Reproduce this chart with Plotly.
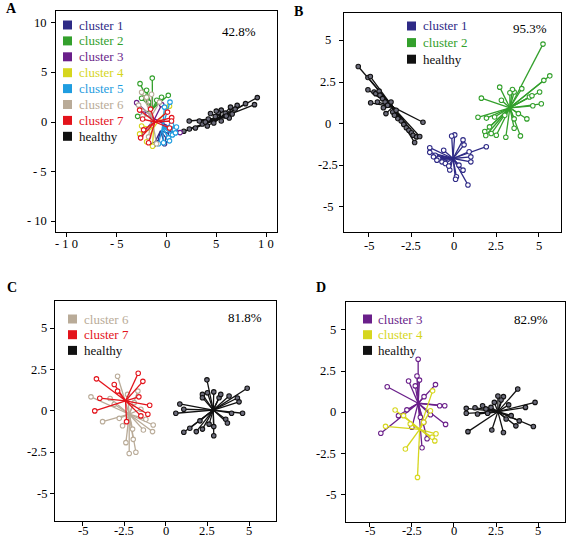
import plotly.graph_objects as go

W, H = 567, 539
FONT = "Times New Roman, Liberation Serif, Tinos, serif"

COLORS = {
    "cluster 1": "#2e2a86",
    "cluster 2": "#33a02c",
    "cluster 3": "#6a1f8a",
    "cluster 4": "#d6d61e",
    "cluster 5": "#1f9de0",
    "cluster 6": "#b9ab98",
    "cluster 7": "#e3131b",
    "healthy": "#111111",
}

# ---------------- Panel A data ----------------
A_healthy_center = [5.4, 0.4]
A_healthy_x = [2.28, 9.12, 8.84, 1.74, 2.3, 2.9, 4.42, 5.5, 6.43, 7.1, 7.94, 4.75, 4.1, 6.3, 5.5, 3.6, 5.2, 5.9, 6.6, 4.2, 4.9, 3.3, 5.0, 6.0, 6.9, 3.9]
A_healthy_y = [0.1, 2.46, 1.75, -0.94, -0.7, -0.6, 0.85, 1.2, 1.5, 1.68, 1.85, -0.1, -0.4, 0.4, 0.1, -0.2, 0.95, 0.9, 0.8, 0.3, 0.55, 0.1, 1.1, 0.6, 1.3, 0.0]
A_c1_center = [-0.6, -0.9]
A_c1_x = [-1.3, -0.9, 0.1, 0.4, -0.2]
A_c1_y = [-2.3, -2.1, -1.8, -1.2, -2.2]
A_c2_center = [-1.4, 1.3]
A_c2_x = [-1.43, -2.66, -2.9, 0.18, -2.26, -0.98, -0.5, -2.0, -1.8, -2.5]
A_c2_y = [4.43, 3.87, 0.57, 2.69, 2.86, 2.19, 2.5, 3.2, 2.0, 2.4]
A_c3_center = [-1.2, 0.3]
A_c3_x = [-3.0, 1.36, -0.48, -2.6, 0.9, -2.3]
A_c3_y = [1.95, -1.07, 1.75, -1.4, -0.8, 0.8]
A_c4_center = [-1.3, -0.6]
A_c4_x = [-1.4, -2.7, 0.3, -2.0, -2.5]
A_c4_y = [-2.45, -1.2, 1.6, -2.0, -0.4]
A_c5_center = [-0.4, -0.5]
A_c5_x = [0.35, 0.8, 0.6, 0.9, -0.3, 0.2, -0.8, 1.0, 0.5, -0.2, 0.3]
A_c5_y = [2.0, -0.8, -1.3, -1.1, -2.1, -1.6, -2.2, -0.5, -0.3, 1.5, -1.9]
A_c6_center = [-1.5, 0.6]
A_c6_x = [-2.5, -2.0, -1.0, -2.8, -1.5, -1.8, -2.4, -0.7]
A_c6_y = [3.0, 2.5, -2.2, 1.7, 2.8, -1.5, 0.6, 2.0]
A_c7_center = [-1.16, 0.0]
A_c7_x = [0.52, 0.5, -2.4, -2.7, -1.8, -2.6, 0.3, -2.3, -1.6, 0.1]
A_c7_y = [0.44, 0.1, 0.3, 1.2, -2.1, -1.6, -0.6, -0.8, 1.3, 1.0]

# ---------------- Panel B data ----------------
B_healthy_center = [-3.6, 1.0]
B_healthy_x = [-5.63, -5.06, -4.92, -5.06, -4.7, -4.6, -4.4, -4.35, -4.9, -4.5, -4.2, -4.05, -3.7, -4.15, -3.9, -3.6, -3.4, -3.3, -3.1, -2.95, -2.8, -2.65, -2.5, -2.4, -2.2, -2.01, -2.31, -1.82, -3.5, -4.0]
B_healthy_y = [3.43, 2.77, 2.83, 2.03, 1.9, 1.8, 1.95, 1.7, 1.25, 1.3, 1.5, 1.3, 1.3, 0.95, 1.1, 0.7, 0.8, 0.3, 0.15, -0.05, -0.25, -0.4, -0.55, -0.7, -0.8, -0.78, -1.14, 0.08, 0.5, 0.6]
B_c1_center = [-0.05, -2.1]
B_c1_x = [0.05, -0.13, 0.54, 0.6, 1.91, -1.42, -1.42, -1.1, 0.9, 1.0, 1.0, -0.24, 0.15, 0.1, 0.83, 0.54, -0.9, -0.7, -1.2, -0.5, -0.3, 0.3, -1.0, -0.6]
B_c1_y = [-0.68, -0.75, -0.98, -1.28, -1.39, -1.45, -1.73, -1.9, -1.69, -2.0, -2.3, -2.79, -3.2, -3.35, -3.69, -2.8, -2.1, -2.3, -2.0, -2.4, -2.55, -2.5, -2.2, -1.6]
B_c2_center = [3.3, 0.95]
B_c2_x = [5.25, 5.65, 5.3, 5.05, 5.15, 4.65, 4.45, 4.0, 3.55, 3.45, 3.3, 2.7, 1.62, 1.42, 1.92, 1.82, 1.88, 2.2, 2.5, 3.06, 3.92, 3.55, 4.3, 4.6, 2.8, 3.55, 3.0, 3.8, 2.4, 2.1]
B_c2_y = [4.78, 2.87, 2.6, 1.9, 1.19, 1.07, 1.6, 2.1, 1.9, 2.05, 1.85, 2.19, 1.53, 0.38, 0.33, -0.48, -0.72, -0.6, -0.7, -0.82, -0.74, 0.28, 0.28, 1.67, 1.4, -0.28, 0.5, 0.6, 0.4, -0.2]

# ---------------- Panel C data ----------------
C_healthy_center = [2.85, 0.05]
C_healthy_x = [2.47, 4.89, 2.2, 2.88, 3.8, 4.3, 4.61, 3.95, 0.84, 0.6, 1.08, 1.08, 1.44, 1.83, 2.2, 2.88, 2.88, 3.6, 3.7, 3.2, 2.2, 2.5, 4.4, 2.05, 3.3, 2.6]
C_healthy_y = [1.88, 1.37, 1.0, 1.15, 0.9, 0.78, -0.14, -0.14, 0.42, -0.14, 0.1, -1.29, -1.05, -1.25, -1.1, -1.5, -0.95, -0.5, -0.73, 0.8, 0.8, 1.1, 0.55, -0.6, 1.0, -0.8]
C_c6_center = [-2.2, -0.2]
C_c6_x = [-2.9, -4.5, -3.8, -2.8, -0.76, -0.8, -2.4, -2.2, -1.8, -1.96, -1.68, -3.35, -1.5, -2.0, -1.35, -3.1, -2.6, -1.2, -2.3, -1.9]
C_c6_y = [2.1, 0.85, -0.65, -0.45, -0.85, -1.25, -1.92, -2.58, -2.5, -1.72, 1.2, 0.75, 0.1, -1.1, -1.15, 0.4, -0.9, -0.5, 1.0, 0.5]
C_c7_center = [-2.42, 0.61]
C_c7_x = [-4.17, -1.66, -1.38, -3.1, -3.97, -4.27, -1.62, -0.97, -1.08, -2.36, -2.9, -1.5]
C_c7_y = [1.94, 2.28, 1.79, 1.6, 0.77, 0.0, 0.85, 0.34, -0.2, -0.65, 1.2, -0.3]

# ---------------- Panel D data ----------------
D_healthy_center = [2.61, 0.04]
D_healthy_x = [3.79, 4.82, 4.72, 0.83, 2.25, 2.94, 0.73, 0.73, 1.25, 1.7, 4.25, 3.68, 3.88, 2.61, 2.94, 3.25, 3.4, 2.4, 2.0, 1.4, 2.2, 3.1, 1.9, 2.8]
D_healthy_y = [1.41, 0.6, -0.86, -1.17, -1.07, -1.22, 0.24, -0.06, 0.28, 0.4, 0.3, -0.82, -0.52, 0.99, 0.95, 0.45, -0.2, 0.6, -0.06, -0.1, 0.3, -0.4, 0.2, 0.75]
D_c3_center = [-2.13, 0.55]
D_c3_x = [-2.13, -3.97, -2.7, -2.2, -2.05, -2.3, -1.1, -1.78, -0.85, -0.55, -0.5, -4.35, -1.9, -3.3, -2.8, -1.8, -2.5, -2.0, -1.4, -1.6]
D_c3_y = [3.21, 1.55, 1.9, 2.2, 1.95, 1.6, 1.68, 0.95, 0.4, 0.4, -0.73, -1.27, -2.14, -0.2, 0.15, -0.6, -0.9, -0.3, -0.15, -1.6]
D_c4_center = [-2.04, -1.03]
D_c4_x = [-2.17, -2.89, -1.27, -3.5, -4.07, -1.14, -1.07, -1.3, -2.6, -1.4, -3.0, -1.8]
D_c4_y = [-3.94, -2.22, 1.3, 0.14, -0.85, -1.73, -1.3, -1.5, -0.7, 0.1, -0.2, -0.6]

PANELS = [
    {"axis": "", "label": "A", "pct": "42.8%",
     "groups": [
         ("healthy", A_healthy_center, A_healthy_x, A_healthy_y),
         ("cluster 1", A_c1_center, A_c1_x, A_c1_y),
         ("cluster 2", A_c2_center, A_c2_x, A_c2_y),
         ("cluster 3", A_c3_center, A_c3_x, A_c3_y),
         ("cluster 4", A_c4_center, A_c4_x, A_c4_y),
         ("cluster 5", A_c5_center, A_c5_x, A_c5_y),
         ("cluster 6", A_c6_center, A_c6_x, A_c6_y),
         ("cluster 7", A_c7_center, A_c7_x, A_c7_y),
     ],
     "legend": ["cluster 1", "cluster 2", "cluster 3", "cluster 4", "cluster 5", "cluster 6", "cluster 7", "healthy"]},
    {"axis": "2", "label": "B", "pct": "95.3%",
     "groups": [
         ("healthy", B_healthy_center, B_healthy_x, B_healthy_y),
         ("cluster 1", B_c1_center, B_c1_x, B_c1_y),
         ("cluster 2", B_c2_center, B_c2_x, B_c2_y),
     ],
     "legend": ["cluster 1", "cluster 2", "healthy"]},
    {"axis": "3", "label": "C", "pct": "81.8%",
     "groups": [
         ("healthy", C_healthy_center, C_healthy_x, C_healthy_y),
         ("cluster 6", C_c6_center, C_c6_x, C_c6_y),
         ("cluster 7", C_c7_center, C_c7_x, C_c7_y),
     ],
     "legend": ["cluster 6", "cluster 7", "healthy"]},
    {"axis": "4", "label": "D", "pct": "82.9%",
     "groups": [
         ("healthy", D_healthy_center, D_healthy_x, D_healthy_y),
         ("cluster 3", D_c3_center, D_c3_x, D_c3_y),
         ("cluster 4", D_c4_center, D_c4_x, D_c4_y),
     ],
     "legend": ["cluster 3", "cluster 4", "healthy"]},
]

A_ticks = [-10, -5, 0, 5, 10]
A_xticktext = ["- 1 0", "- 5", "0", "5", "1 0"]
A_yticktext = ["- 10", "- 5", "0", "5", "10"]
BCD_ticks = [-5, -2.5, 0, 2.5, 5]
BCD_ticktext = ["-5", "-2.5", "0", "2.5", "5"]

# layout boxes in pixels: (left, right, top, bottom)
BOXES = [(56, 277, 11, 232), (344, 561, 13, 232), (55, 276, 301, 521), (346, 565, 302, 522)]
RANGES = [((-11.1, 11.1), (-11.1, 11.2)), ((-6.47, 6.31), (-6.52, 6.65)),
          ((-6.66, 6.62), (-6.66, 6.65)), ((-6.42, 6.6), (-6.64, 6.68))]
LABEL_POS = [(4, 9), (292, 12), (5, 287), (314, 287)]
LEG_POS = [(63, 25, 15.9, 77), (407, 26, 16.6, 421), (68, 319, 15.7, 82), (363, 319, 15.7, 376)]
PCT_POS = [(239, 31), (530, 28), (245, 317), (531, 319)]
XLAB_OFF = [12, 14, 10, 9]           # pixels below the box for x tick labels
YLAB_MODE = [("right", 7), ("center", 16), ("right", 6), ("right", 8)]

fig = go.Figure()
shapes, annotations = [], []
layout = {}
TF = dict(family=FONT, size=12.5, color="black")

for i, p in enumerate(PANELS):
    ax = p["axis"]
    xa, ya = "x" + ax, "y" + ax
    for name, c, xs, ys in p["groups"]:
        col = COLORS[name]
        lx, ly = [], []
        for x, y in zip(xs, ys):
            lx += [c[0], x, None]
            ly += [c[1], y, None]
        fig.add_trace(go.Scatter(x=lx, y=ly, mode="lines", line=dict(color=col, width=1.3),
                                 xaxis=xa, yaxis=ya, showlegend=False, hoverinfo="skip"))
        fill = "#6b6b7a" if name == "healthy" else "white"
        fig.add_trace(go.Scatter(x=xs, y=ys, mode="markers",
                                 marker=dict(size=4.5, color=fill, line=dict(color=col, width=1.1)),
                                 xaxis=xa, yaxis=ya, showlegend=False, name=name))
    l, r, t, b = BOXES[i]
    xr, yr = RANGES[i]
    if i == 0:
        tv, xtt, ytt = A_ticks, A_xticktext, A_yticktext
    else:
        tv, xtt, ytt = BCD_ticks, BCD_ticktext, BCD_ticktext
    common = dict(showgrid=False, zeroline=False, showline=True, mirror=True, linecolor="black",
                  linewidth=1.3, ticks="outside", ticklen=4, tickwidth=1.2, tickcolor="black",
                  showticklabels=False)
    layout["xaxis" + ax] = dict(domain=[l / W, r / W], range=list(xr), anchor=ya, tickvals=tv, **common)
    layout["yaxis" + ax] = dict(domain=[1 - b / H, 1 - t / H], range=list(yr), anchor=xa, tickvals=tv, **common)
    for v, txt in zip(tv, xtt):
        annotations.append(dict(text=txt, x=v, xref=xa, y=1 - (b + XLAB_OFF[i]) / H, yref="paper",
                                xanchor="center", yanchor="middle", showarrow=False, font=TF))
    mode, gap = YLAB_MODE[i]
    for v, txt in zip(tv, ytt):
        annotations.append(dict(text=txt, y=v, yref=ya, x=(l - gap) / W, xref="paper",
                                xanchor=mode, yanchor="middle", showarrow=False, font=TF))
    lx0, ly0 = LABEL_POS[i]
    annotations.append(dict(text="<b>" + p["label"] + "</b>", x=lx0 / W, y=1 - ly0 / H, xref="paper", yref="paper",
                            xanchor="left", yanchor="middle", showarrow=False,
                            font=dict(family=FONT, size=14, color="black")))
    px0, py0 = PCT_POS[i]
    annotations.append(dict(text=p["pct"], x=px0 / W, y=1 - py0 / H, xref="paper", yref="paper",
                            xanchor="center", yanchor="middle", showarrow=False,
                            font=dict(family=FONT, size=13, color="black")))
    sx, sy, step, tx = LEG_POS[i]
    for k, name in enumerate(p["legend"]):
        cy = sy + k * step
        shapes.append(dict(type="rect", xref="paper", yref="paper",
                           x0=sx / W, x1=(sx + 9) / W, y0=1 - (cy + 4.5) / H, y1=1 - (cy - 4.5) / H,
                           fillcolor=COLORS[name], line=dict(width=0)))
        annotations.append(dict(text=name, x=tx / W, y=1 - cy / H, xref="paper", yref="paper",
                                xanchor="left", yanchor="middle", showarrow=False,
                                font=dict(family=FONT, size=13, color=COLORS[name])))

fig.update_layout(width=W, height=H, margin=dict(l=0, r=0, t=0, b=0),
                  paper_bgcolor="white", plot_bgcolor="white", showlegend=False,
                  shapes=shapes, annotations=annotations, **layout)

fig.write_html("out.html", config={"displayModeBar": False},
               post_script="document.body.style.margin='0';document.body.style.overflow='hidden';")
